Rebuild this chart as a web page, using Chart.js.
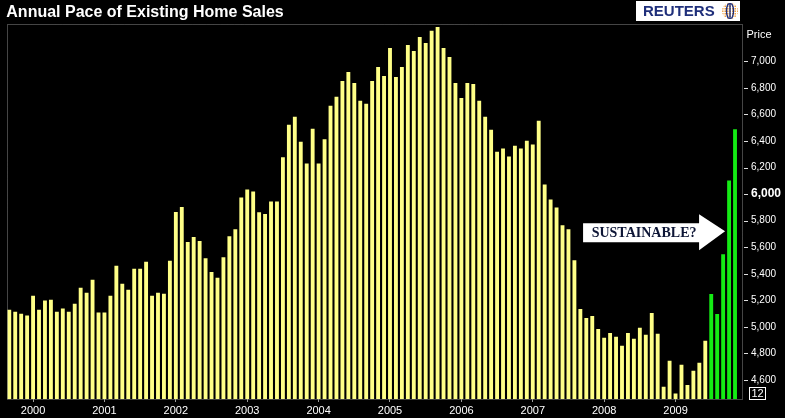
<!DOCTYPE html>
<html>
<head>
<meta charset="utf-8">
<title>Annual Pace of Existing Home Sales</title>
<script src="https://cdn.jsdelivr.net/npm/chart.js@4/dist/chart.umd.min.js"></script>
<style>
  html, body { margin: 0; padding: 0; background: #000; }
  #wrap { width: 785px; height: 418px; position: relative; }
</style>
</head>
<body>
<div id="wrap"><canvas id="myChart"></canvas></div>
<script>
// Existing home sales, annual pace (thousands), monthly
const sales1999 = [5130, 5115, 5100, 5085]; // Sep - Dec
const sales2000 = [5235, 5130, 5198, 5205, 5115, 5138, 5115, 5175, 5295, 5258, 5355, 5108];
const sales2001 = [5108, 5235, 5460, 5325, 5280, 5438, 5438, 5490, 5235, 5258, 5250, 5498];
const sales2002 = [5865, 5903, 5640, 5678, 5648, 5518, 5413, 5370, 5525, 5683, 5735, 5975];
const sales2003 = [6035, 6020, 5863, 5850, 5945, 5945, 6278, 6523, 6583, 6395, 6230, 6493];
const sales2004 = [6230, 6413, 6665, 6733, 6853, 6920, 6838, 6703, 6680, 6853, 6958, 6890];
const sales2005 = [7100, 6883, 6958, 7123, 7078, 7183, 7138, 7230, 7258, 7100, 7033, 6838];
const sales2006 = [6725, 6838, 6830, 6703, 6583, 6485, 6320, 6343, 6283, 6365, 6343, 6403];
const sales2007 = [6373, 6553, 6073, 5960, 5900, 5765, 5735, 5503, 5135, 5068, 5083, 4985];
const sales2008 = [4918, 4955, 4925, 4858, 4955, 4910, 4993, 4940, 5105, 4948, 4550, 4745];
const sales2009 = [4498, 4715, 4563, 4670, 4730, 4895, 5248, 5098, 5548, 6103, 6488]; // Jan - Nov

const years = ['1999', '2000', '2001', '2002', '2003', '2004', '2005', '2006', '2007', '2008', '2009'];
const monthNames = ['Jan', 'Feb', 'Mar', 'Apr', 'May', 'Jun', 'Jul', 'Aug', 'Sep', 'Oct', 'Nov', 'Dec'];
const yTicks = [4600, 4800, 5000, 5200, 5400, 5600, 5800, 6000, 6200, 6400, 6600, 6800, 7000];
const highlighted = ['Jul 2009', 'Aug 2009', 'Sep 2009', 'Oct 2009', 'Nov 2009'];

const yearly = [sales1999, sales2000, sales2001, sales2002, sales2003, sales2004,
                sales2005, sales2006, sales2007, sales2008, sales2009];

// month labels, 1999 starts in September
const labels = [];
const values = [];
yearly.forEach((arr, k) => {
  const start = k === 0 ? 12 - arr.length : 0;
  arr.forEach((v, i) => {
    labels.push(monthNames[start + i] + ' ' + years[k]);
    values.push(v);
  });
});

const yellow = 'rgb(255, 255, 135)';
const green = 'rgb(20, 235, 20)';

// dotted frame, right axis ticks and the little extras
const frame = {
  id: 'frame',
  afterDraw(chart) {
    const { ctx, chartArea: a, scales: { x, y } } = chart;
    ctx.save();
    ctx.strokeStyle = '#8a8a8a';
    ctx.lineWidth = 1;
    ctx.setLineDash([1, 1]);
    const l = Math.round(a.left) + 1.5, r = Math.round(a.right) + 4.5;
    const t = Math.round(a.top) + 0.5, b = Math.round(a.bottom) + 0.5;
    ctx.strokeRect(l, t, r - l, b - t);
    ctx.setLineDash([]);

    // right axis tick dashes
    ctx.strokeStyle = '#e0e0e0';
    y.ticks.forEach(tk => {
      const py = Math.round(y.getPixelForValue(tk.value)) + 0.5;
      ctx.beginPath();
      ctx.moveTo(r + 1.5, py);
      ctx.lineTo(r + 5.5, py);
      ctx.stroke();
    });

    ctx.fillStyle = '#fff';
    ctx.font = '11px "Liberation Sans", Arial, sans-serif';
    ctx.textBaseline = 'middle';
    ctx.textAlign = 'left';
    ctx.fillText('Price', r + 4, 35);

    // small "12" box
    ctx.strokeStyle = '#fff';
    ctx.strokeRect(r + 7, 387.5, 16, 12);
    ctx.textAlign = 'center';
    ctx.fillText('12', r + 15, 394);

    // Reuters logo
    ctx.fillStyle = '#fff';
    ctx.fillRect(636, 1, 104, 20);
    ctx.fillStyle = '#1f2f7a';
    ctx.font = 'bold 15px "Liberation Sans", Arial, sans-serif';
    ctx.textAlign = 'left';
    ctx.fillText('REUTERS', 643, 12);
    ctx.save();
    ctx.beginPath();
    ctx.arc(730, 11, 8, 0, Math.PI * 2);
    ctx.clip();
    ctx.fillStyle = '#f0a040';
    for (let gx = 722; gx <= 738; gx += 2.5) {
      for (let gy = 3; gy <= 19; gy += 2.5) {
        ctx.fillRect(gx, gy, 1.5, 1.5);
      }
    }
    ctx.strokeStyle = '#1f2f7a';
    ctx.lineWidth = 1.4;
    ctx.beginPath();
    ctx.ellipse(730, 11, 3.5, 8, 0, 0, Math.PI * 2);
    ctx.moveTo(730, 3);
    ctx.lineTo(730, 19);
    ctx.stroke();
    ctx.restore();

    // "SUSTAINABLE?" arrow, tip anchored to the Oct 2009 bar
    const tipX = x.getPixelForValue(labels.indexOf('Oct 2009')) - 4;
    const tipY = y.getPixelForValue(5720);
    ctx.fillStyle = '#fff';
    ctx.beginPath();
    ctx.moveTo(tipX - 142, tipY - 8);
    ctx.lineTo(tipX - 26, tipY - 8);
    ctx.lineTo(tipX - 26, tipY - 17);
    ctx.lineTo(tipX, tipY);
    ctx.lineTo(tipX - 26, tipY + 19);
    ctx.lineTo(tipX - 26, tipY + 11);
    ctx.lineTo(tipX - 142, tipY + 11);
    ctx.closePath();
    ctx.fill();
    ctx.fillStyle = '#0e1636';
    ctx.font = 'bold 14px "Liberation Serif", "Times New Roman", serif';
    ctx.textAlign = 'center';
    ctx.fillText('SUSTAINABLE?', tipX - 81, tipY + 2);
    ctx.restore();
  }
};

const ctx = document.getElementById('myChart');

new Chart(ctx, {
  type: 'bar',
  data: {
    labels: labels,
    datasets: [{
      label: 'Existing home sales',
      data: values,
      backgroundColor: labels.map(l => highlighted.includes(l) ? green : yellow),
      barPercentage: 0.65,
      categoryPercentage: 1
    }]
  },
  options: {
    responsive: true,
    maintainAspectRatio: false,
    animation: false,
    devicePixelRatio: 1,
    layout: { padding: { left: 6.3, right: 0, top: 0, bottom: 0 } },
    plugins: {
      legend: { display: false },
      tooltip: { enabled: false },
      title: {
        display: true,
        text: 'Annual Pace of Existing Home Sales',
        align: 'start',
        color: '#fff',
        font: { family: '"Liberation Sans", Arial, sans-serif', size: 16, weight: 'bold' },
        padding: { top: 3, bottom: 2 }
      }
    },
    scales: {
      x: {
        grid: {
          drawOnChartArea: false,
          offset: false,
          tickLength: 3,
          tickColor: '#9a9a9a'
        },
        border: { display: false },
        ticks: {
          autoSkip: false,
          maxRotation: 0,
          padding: 2,
          color: '#fff',
          font: { family: '"Liberation Sans", Arial, sans-serif', size: 11 },
          callback: (value) => labels[value].slice(4)
        },
        afterBuildTicks: (scale) => {
          scale.ticks = scale.ticks.filter(t => labels[t.value].startsWith('Jan'));
        },
        afterFit: (scale) => { scale.height = 19; }
      },
      y: {
        position: 'right',
        min: 4457,
        max: 7280,
        grid: { drawOnChartArea: false, drawTicks: false },
        border: { display: false },
        ticks: {
          padding: 13,
          color: '#fff',
          font: (c) => c.tick && c.tick.value === 6000
            ? { family: '"Liberation Sans", Arial, sans-serif', size: 12, weight: 'bold' }
            : { family: '"Liberation Sans", Arial, sans-serif', size: 10 },
          callback: (v) => v.toLocaleString('en-US')
        },
        afterBuildTicks: (scale) => {
          scale.ticks = yTicks.map(v => ({ value: v }));
        },
        afterFit: (scale) => { scale.width = 47; }
      }
    }
  },
  plugins: [frame]
});
</script>
</body>
</html>
